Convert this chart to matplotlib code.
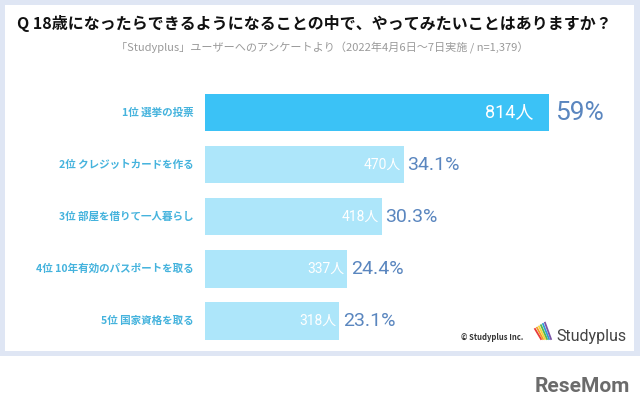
import matplotlib.pyplot as plt
from matplotlib.patches import Rectangle
from matplotlib import font_manager

plt.rcParams['font.family'] = ['Noto Sans CJK JP', 'DejaVu Sans']

# data
labels = ['1位 選挙の投票', '2位 クレジットカードを作る', '3位 部屋を借りて一人暮らし',
          '4位 10年有効のパスポートを取る', '5位 国家資格を取る']
counts = [814, 470, 418, 337, 318]
pct_labels = ['59%', '34.1%', '30.3%', '24.4%', '23.1%']

names = {f.name for f in font_manager.fontManager.ttflist}
num_font = ['Liberation Sans Narrow'] if 'Liberation Sans Narrow' in names else ['Roboto']

W, H = 640, 417
fig = plt.figure(figsize=(6.4, 4.17), dpi=100)
fig.patch.set_facecolor('white')

# background frame
fig.patches.append(Rectangle((0, 1 - 356 / H), 1, 356 / H, transform=fig.transFigure,
                             facecolor='#dfe6f4', edgecolor='none', zorder=-10))
fig.patches.append(Rectangle((5 / W, 1 - 351 / H), 629 / W, 346 / H, transform=fig.transFigure,
                             facecolor='white', edgecolor='none', zorder=-9))

ax = fig.add_axes([205 / W, 1 - 348 / H, 344 / W, 262 / H])
ax.set_zorder(5)
ax.set_facecolor('none')
colors = ['#3bc2f6'] + ['#ade6fa'] * 4
y = range(len(counts))
ax.barh(y, counts, height=0.72, color=colors)
ax.set_xlim(0, 814)
ax.set_ylim(4.52, -0.51)
ax.axis('off')

for i, (c, lab, p) in enumerate(zip(counts, labels, pct_labels)):
    ax.text(-28, i, lab, ha='right', va='center', fontsize=7.6, color='#45b3dd',
            fontweight='bold')
    big = i == 0
    ax.text(c - (38 if big else 6), i, f'{c}人', ha='right', va='center', color='white',
            fontsize=13 if big else 10, family=num_font + ['Noto Sans CJK JP'])
    ax.text(c + (14 if big else 8), i, p, ha='left', va='center', color='#5a86bf',
            fontsize=19 if big else 14, family=num_font + ['Noto Sans CJK JP'])

fig.text(17 / W, 1 - 23 / H, 'Q 18歳になったらできるようになることの中で、やってみたいことはありますか？',
         ha='left', va='center', fontsize=11.5, fontweight='bold', color='#111111')
fig.text(322 / W, 1 - 48 / H, '「Studyplus」ユーザーへのアンケートより（2022年4月6日～7日実施 / n=1,379）',
         ha='center', va='center', fontsize=8, color='#9a9a9a')

fig.text(523 / W, 1 - 338 / H, '© Studyplus Inc.', ha='right', va='center',
         fontsize=5.5, color='#333333', fontweight='bold')
# small pencil icon strokes
icon_colors = ['#e83b3b', '#f39a2b', '#f7d43a', '#55b948', '#2f9bd6', '#7b55a8']
for k, col in enumerate(icon_colors):
    x0 = (535 + k * 2) / W
    fig.lines.append(plt.Line2D([x0, x0 + 6 / W], [1 - 329 / H + k * 0.003, 1 - 339 / H],
                                transform=fig.transFigure, color=col, lw=1.3))
fig.text(556 / W, 1 - 337 / H, 'Studyplus', ha='left', va='center', fontsize=11.5,
         color='#444444', family=num_font + ['Noto Sans CJK JP'])

fig.text(630 / W, 1 - 386 / H, 'ReseMom', ha='right', va='center', fontsize=15,
         fontweight='bold', color='#6b6b6b', family=num_font + ['DejaVu Sans'])

fig.savefig('out.png', dpi=100, facecolor='white')
